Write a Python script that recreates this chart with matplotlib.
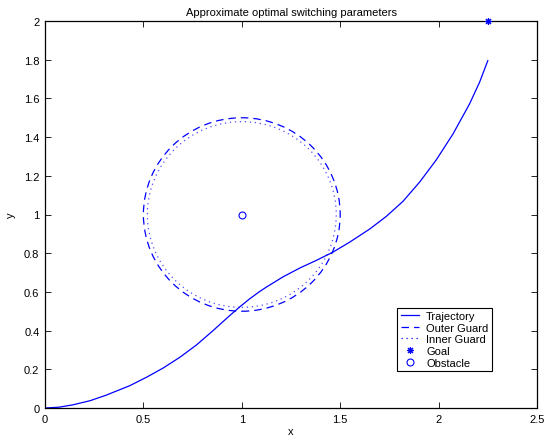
import matplotlib
matplotlib.use("Agg")
import matplotlib.pyplot as plt
from matplotlib.patches import Circle
from matplotlib.lines import Line2D

plt.rcParams['font.family'] = ['Liberation Sans', 'DejaVu Sans']

# Trajectory
traj_x = [0, 0.07, 0.14, 0.23, 0.31, 0.43, 0.516, 0.601, 0.685, 0.77, 0.854, 0.939,
          0.99, 1.041, 1.088, 1.125, 1.21, 1.294, 1.379, 1.464, 1.548, 1.65, 1.734,
          1.819, 1.904, 1.988, 2.073, 2.157, 2.208, 2.25]
traj_y = [0, 0.004, 0.016, 0.038, 0.066, 0.115, 0.159, 0.207, 0.262, 0.326, 0.400,
          0.478, 0.523, 0.565, 0.600, 0.625, 0.678, 0.723, 0.763, 0.806, 0.857, 0.925,
          0.990, 1.068, 1.168, 1.282, 1.416, 1.571, 1.683, 1.795]

obstacle = (1.0, 1.0)
outer_radius = 0.5
inner_radius = 0.48
goal = (2.25, 2.0)

title = 'Approximate optimal switching parameters'
legend_labels = ['Trajectory', 'Outer Guard', 'Inner Guard', 'Goal', 'Obstacle']

fig = plt.figure(figsize=(5.56, 4.39), dpi=100)
ax = fig.add_axes([45/556, 1-409/439, (537-45)/556, (409-22)/439])

blue = (0, 0, 1)
lw = 0.9
dash = (0, (6, 4))
dot = (0, (1, 3))
ast = (8, 2, 0)
ax.plot(traj_x, traj_y, color=blue, lw=lw)
ax.add_patch(Circle(obstacle, outer_radius, fill=False, edgecolor=blue, lw=lw,
                    linestyle=dash))
ax.add_patch(Circle(obstacle, inner_radius, fill=False, edgecolor=blue, lw=lw,
                    linestyle=dot, alpha=0.7))
ax.plot([goal[0]], [goal[1]], marker=ast, color=blue, ms=5, ls='none', clip_on=False,
        markeredgewidth=0.8, zorder=5)
ax.plot([obstacle[0]], [obstacle[1]], marker='o', mfc='none', mec=blue, ms=5,
        ls='none', markeredgewidth=0.8)

ax.set_xlim(0, 2.5)
ax.set_ylim(0, 2)
ax.set_xticks([0, 0.5, 1, 1.5, 2, 2.5])
ax.set_xticklabels(['0', '0.5', '1', '1.5', '2', '2.5'])
ax.set_yticks([0, 0.2, 0.4, 0.6, 0.8, 1, 1.2, 1.4, 1.6, 1.8, 2])
ax.set_yticklabels(['0', '0.2', '0.4', '0.6', '0.8', '1', '1.2', '1.4', '1.6', '1.8', '2'])
ax.tick_params(direction='in', top=True, right=True, labelsize=8, length=4, width=0.6,
               pad=4)
for s in ax.spines.values():
    s.set_linewidth(0.9)
ax.set_xlabel('x', fontsize=8, labelpad=2)
ax.set_ylabel('y', fontsize=8, labelpad=6)
ax.set_title(title, fontsize=8, pad=4)

handles = [
    Line2D([], [], color=blue, lw=lw),
    Line2D([], [], color=blue, lw=lw, linestyle=dash),
    Line2D([], [], color=blue, lw=lw, linestyle=dot),
    Line2D([], [], color=blue, marker=ast, ls='none', ms=5, markeredgewidth=0.8),
    Line2D([], [], color=blue, marker='o', mfc='none', ls='none', ms=5, markeredgewidth=0.8),
]
leg = ax.legend(handles, legend_labels, loc='lower right', bbox_to_anchor=(0.908, 0.0956),
                fontsize=8, frameon=True, fancybox=False, edgecolor='black',
                framealpha=1, borderpad=0.3, labelspacing=0.15, handlelength=1.7,
                handletextpad=0.6, borderaxespad=0)
leg.get_frame().set_linewidth(0.8)

fig.savefig('out.png', dpi=100)
